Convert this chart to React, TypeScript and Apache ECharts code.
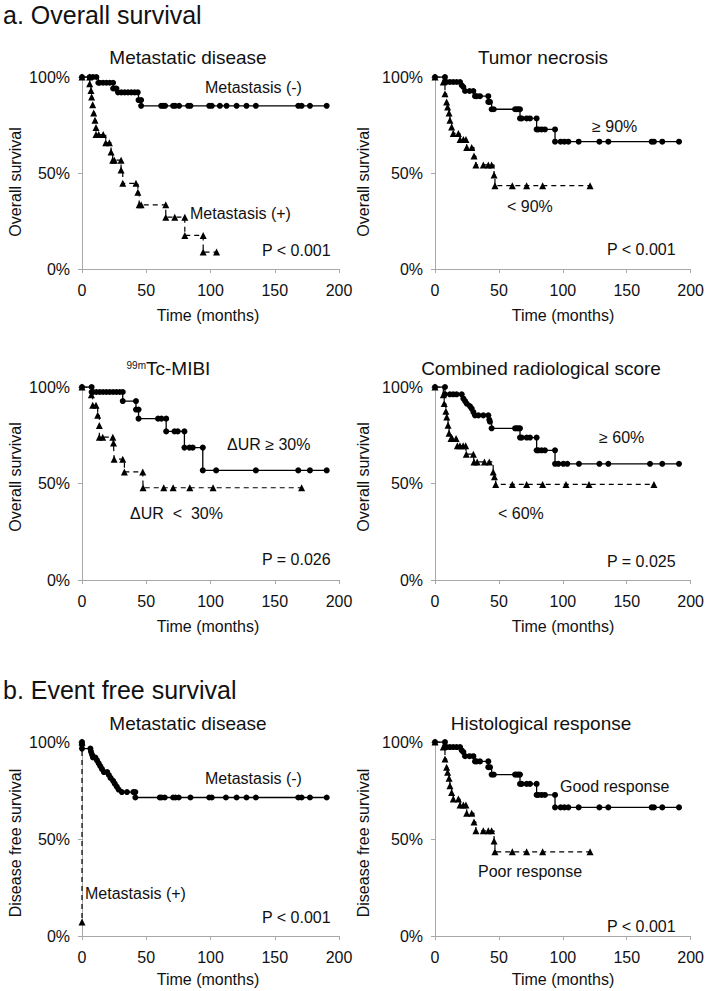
import React, { useEffect, useRef } from "react";
import * as echarts from "echarts";

// ---------- Data (months, survival %) ----------
// a. Overall survival – Metastatic disease
const osMetNegT = [0, 6, 8.6, 11.2, 12.7, 13.8, 16.4, 19, 21.6, 24.2, 24.2, 25.5, 26.8, 28, 30.6, 33.2, 35.8, 38.4, 41, 43.4, 44, 46, 46, 61.6, 63.1, 64.7, 70.9, 72.5, 75.6, 82.6, 84.4, 99, 101, 107.3, 112.5, 120.3, 128, 135.3, 168.3, 170.9, 177.4, 190.4];
const osMetNegS = [100, 100, 100, 100, 97, 97, 97, 97, 97, 97, 94, 94, 94, 92, 92, 92, 92, 92, 92, 92, 88, 88, 85, 85, 85, 85, 85, 85, 85, 85, 85, 85, 85, 85, 85, 85, 85, 85, 85, 85, 85, 85];
const osMetPosT = [0, 6, 6, 7, 7.5, 8.3, 9.1, 10.1, 10.9, 10.9, 13, 16.5, 18.5, 21.3, 22.6, 23.9, 25.2, 30.4, 30.4, 31.7, 42, 43.5, 44.5, 46, 65.2, 65.2, 72.2, 80, 80, 94.3, 94.3, 104.7];
const osMetPosS = [100, 100, 96.5, 93, 89.6, 85.6, 81.3, 77.5, 73.7, 70, 70, 70, 65.7, 65.7, 61, 56.7, 56.7, 56.7, 51.6, 44.6, 44.6, 40, 33.4, 33.4, 33.4, 27, 27, 27, 17.5, 17.5, 8.8, 8.8];

// Tumor necrosis (also Histological response)
const tnHighT = [0, 7.8, 7.8, 9.1, 11.7, 14.3, 16.9, 19.6, 20.9, 22.2, 23.5, 27, 30, 31.3, 32.6, 35.2, 41.7, 41.7, 43, 44.3, 46, 62.6, 63.9, 65.2, 66.5, 66.5, 67.8, 71.7, 74.3, 79.5, 79.5, 80.8, 83.4, 86, 93.9, 93.9, 98.3, 101.2, 104.3, 112.4, 128.6, 135.6, 169.5, 171.3, 177.8, 190.9];
const tnHighS = [100, 100, 97.4, 97.4, 97.4, 97.4, 97.4, 97.4, 95.7, 94.8, 92.7, 92.7, 92.7, 90, 90, 90, 90, 87, 87, 83.2, 83.2, 83.2, 83.2, 83.2, 83.2, 78.4, 78.4, 78.4, 78.4, 78.4, 72.7, 72.7, 72.7, 72.7, 72.7, 66.3, 66.3, 66.3, 66.3, 66.3, 66.3, 66.3, 66.3, 66.3, 66.3, 66.3];
const tnLowT = [0, 6.5, 7.8, 9.1, 9.9, 11, 11.7, 13, 14.3, 18.3, 19.6, 22.2, 24.2, 24.8, 28.7, 30.5, 32, 37.8, 41.7, 44.3, 46.2, 46.9, 60.5, 71.7, 84.2, 121.3];
const tnLowS = [100, 97.4, 91.3, 87, 84.4, 81.3, 77.5, 74, 70.6, 70.6, 67.5, 67.5, 67.5, 63.3, 63.3, 58.8, 54.2, 54.2, 54.2, 54.2, 49, 43.4, 43.4, 43.4, 43.4, 43.4];

// 99mTc-MIBI
const mibiHighT = [0, 7.5, 7.5, 8.6, 11.2, 13.8, 16.4, 19, 21.6, 24.2, 26.8, 29.4, 31.7, 31.7, 42, 42, 44, 44, 59.2, 61.8, 65.5, 65.5, 72, 74.5, 79.7, 79.7, 83.6, 86.2, 94, 94, 104.4, 135.3, 168.3, 177.4, 190.4];
const mibiHighS = [100, 100, 97.4, 97.4, 97.4, 97.4, 97.4, 97.4, 97.4, 97.4, 97.4, 97.4, 97.4, 92.7, 92.7, 88.3, 88.3, 83.6, 83.6, 83.6, 83.6, 77, 77, 77, 77, 68.6, 68.6, 68.6, 68.6, 56.8, 56.8, 56.8, 56.8, 56.8, 56.8];
const mibiLowT = [0, 7.3, 8.3, 10.9, 12.2, 13.5, 13.5, 16.1, 24, 24.5, 25, 31.7, 33, 47.3, 47.5, 63.6, 70.9, 83.9, 102, 170.9];
const mibiLowS = [100, 96, 90.5, 90.5, 85.3, 80, 74, 74, 74, 71, 62.6, 62.6, 56, 56, 47.8, 47.8, 47.8, 47.8, 47.8, 47.8];

// Combined radiological score
const crHighT = [0, 7.8, 7.8, 11.7, 14.3, 16.9, 20.9, 22.2, 23.5, 24.8, 27.4, 28.7, 30, 31.3, 34, 37.8, 41.7, 42.5, 43, 44.3, 62.6, 63.9, 65.2, 66.5, 66.5, 67.8, 71.7, 74.3, 79.5, 79.5, 80.8, 83.4, 86, 93.9, 93.9, 96.5, 100.4, 103.5, 112.6, 128.6, 135.6, 168.2, 177.8, 190.9];
const crHighS = [100, 100, 96.2, 96.2, 96.2, 96.2, 96.2, 94, 92.7, 91.4, 90, 88.8, 87, 85.3, 85.3, 85.3, 85.3, 83, 82, 78.6, 78.6, 78.6, 78.6, 78.6, 73.8, 73.8, 73.8, 73.8, 73.8, 67.2, 67.2, 67.2, 67.2, 67.2, 60.2, 60.2, 60.2, 60.2, 60.2, 60.2, 60.2, 60.2, 60.2, 60.2];
const crLowT = [0, 6.5, 7.2, 8.5, 9.2, 10.2, 11, 12.5, 13.5, 16.5, 17.5, 19.5, 22, 24, 24.5, 30, 30.5, 33, 38.7, 42.5, 45.5, 46.5, 47.5, 60.5, 71.7, 84.2, 102.5, 120.5, 171.3];
const crLowS = [100, 96, 91.4, 87.4, 84.5, 80.2, 76, 73.3, 73.3, 73.3, 69.5, 69.5, 69.5, 69.5, 65.2, 65.2, 61.2, 61.2, 61.2, 61.2, 56, 53.5, 49.5, 49.5, 49.5, 49.5, 49.5, 49.5, 49.5];

// b. Event free survival – Metastatic disease
const efsNegT = [0, 0, 0, 6.5, 7, 7.8, 8.5, 10.4, 11.7, 13, 14.3, 15.6, 17, 19.6, 20.9, 22.2, 24.2, 25.5, 27, 28.5, 31, 35, 40, 41.5, 41.5, 60.5, 61.8, 64.4, 70.9, 72.7, 75.3, 84.4, 99, 101, 112, 120.3, 128, 135.3, 168.3, 170.9, 177.4, 190.4];
const efsNegS = [100, 98.6, 96.6, 96.6, 95, 93.5, 92, 92, 90.5, 89, 87.5, 86, 84.5, 84.5, 83, 81.5, 80, 78.5, 77, 75.5, 74.2, 74.2, 74.2, 74.2, 71.4, 71.4, 71.4, 71.4, 71.4, 71.4, 71.4, 71.4, 71.4, 71.4, 71.4, 71.4, 71.4, 71.4, 71.4, 71.4, 71.4, 71.4];
const efsPosT = [0, 0];
const efsPosS = [100, 7.2];

const xTicks = [0, 200, 50];
const yTicks = [0, 100, 50];

const FONT = '"Liberation Sans", Arial, Helvetica, sans-serif';

const zip = (t: number[], s: number[]) => t.map((v, i) => [v, s[i]]);

const panels = [
  { left: 82, top: 77, w: 257, h: 192, solid: zip(osMetNegT, osMetNegS), dashed: zip(osMetPosT, osMetPosS) },
  { left: 435, top: 77, w: 256, h: 192, solid: zip(tnHighT, tnHighS), dashed: zip(tnLowT, tnLowS) },
  { left: 82, top: 387, w: 257, h: 193, solid: zip(mibiHighT, mibiHighS), dashed: zip(mibiLowT, mibiLowS) },
  { left: 435, top: 387, w: 256, h: 193, solid: zip(crHighT, crHighS), dashed: zip(crLowT, crLowS) },
  { left: 82, top: 742, w: 257, h: 194, solid: zip(efsNegT, efsNegS), dashed: zip(efsPosT, efsPosS) },
  { left: 435, top: 742, w: 256, h: 194, solid: zip(tnHighT, tnHighS), dashed: zip(tnLowT, tnLowS) },
];

function txt(text: string, x: number, y: number, size: number, align = "left", rotation = 0, vAlign = "middle") {
  return {
    type: "text",
    x,
    y,
    rotation,
    silent: true,
    style: {
      text,
      fontSize: size,
      fontFamily: FONT,
      fill: "#111",
      textAlign: align,
      align,
      textVerticalAlign: vAlign,
      verticalAlign: vAlign,
    },
  };
}

export default function App() {
  const ref = useRef<HTMLDivElement>(null);
  useEffect(() => {
    if (!ref.current) return;
    const chart = echarts.init(ref.current, undefined, { renderer: "svg" });
    const axisColor = "#a8a8a8";
    const grids: any[] = [];
    const xAxes: any[] = [];
    const yAxes: any[] = [];
    const series: any[] = [];
    panels.forEach((p, i) => {
      grids.push({ left: p.left, top: p.top, width: p.w, height: p.h, containLabel: false });
      xAxes.push({
        type: "value",
        gridIndex: i,
        min: xTicks[0],
        max: xTicks[1],
        interval: xTicks[2],
        axisLine: { show: true, onZero: false, lineStyle: { color: axisColor, width: 1 } },
        axisTick: { show: true, length: 4, lineStyle: { color: axisColor } },
        axisLabel: { margin: 13, fontSize: 16, color: "#111", fontFamily: FONT },
        splitLine: { show: false },
      });
      yAxes.push({
        type: "value",
        gridIndex: i,
        min: yTicks[0],
        max: yTicks[1],
        interval: yTicks[2],
        axisLine: { show: true, onZero: false, lineStyle: { color: axisColor, width: 1 } },
        axisTick: { show: true, length: 4, lineStyle: { color: axisColor } },
        axisLabel: { margin: 12, fontSize: 16, color: "#111", fontFamily: FONT, formatter: "{value}%" },
        splitLine: { show: false },
      });
      series.push({
        type: "line",
        xAxisIndex: i,
        yAxisIndex: i,
        data: p.dashed,
        step: "end",
        symbol: "triangle",
        symbolSize: 7,
        showSymbol: true,
        showAllSymbol: true,
        silent: true,
        lineStyle: { color: "#000", width: 1.2, type: [5, 4] },
        itemStyle: { color: "#000" },
        emphasis: { disabled: true },
        z: 2,
      });
      series.push({
        type: "line",
        xAxisIndex: i,
        yAxisIndex: i,
        data: p.solid,
        step: "end",
        symbol: "circle",
        symbolSize: 6,
        showSymbol: true,
        showAllSymbol: true,
        silent: true,
        lineStyle: { color: "#000", width: 1.3 },
        itemStyle: { color: "#000" },
        emphasis: { disabled: true },
        z: 3,
      });
    });

    const graphics: any[] = [
      txt("a. Overall survival", 3, 15, 25),
      txt("b. Event free survival", 3, 690, 25),
      // panel titles
      txt("Metastatic disease", 188, 57, 19, "center"),
      txt("Tumor necrosis", 543, 57, 19, "center"),
      txt("99m", 146, 365, 10, "right"),
      txt("Tc-MIBI", 146, 368, 19, "left"),
      txt("Combined radiological score", 541, 368, 19, "center"),
      txt("Metastatic disease", 188, 723, 19, "center"),
      txt("Histological response", 541, 723, 19, "center"),
      // y axis titles
      txt("Overall survival", 15, 182, 16, "center", Math.PI / 2),
      txt("Overall survival", 363, 182, 16, "center", Math.PI / 2),
      txt("Overall survival", 15, 477, 16, "center", Math.PI / 2),
      txt("Overall survival", 363, 477, 16, "center", Math.PI / 2),
      txt("Disease free survival", 15, 843, 16, "center", Math.PI / 2),
      txt("Disease free survival", 363, 843, 16, "center", Math.PI / 2),
      // x axis titles
      txt("Time (months)", 208, 315, 16, "center"),
      txt("Time (months)", 563, 315, 16, "center"),
      txt("Time (months)", 208, 626, 16, "center"),
      txt("Time (months)", 563, 626, 16, "center"),
      txt("Time (months)", 208, 979, 16, "center"),
      txt("Time (months)", 563, 979, 16, "center"),
      // annotations
      txt("Metastasis (-)", 205, 87, 16),
      txt("Metastasis (+)", 190, 213, 16),
      txt("P < 0.001", 262, 250, 16),
      txt("≥ 90%", 592, 126, 16),
      txt("< 90%", 507, 206, 16),
      txt("P < 0.001", 607, 249, 16),
      txt("ΔUR ≥ 30%", 227, 444, 16),
      txt("ΔUR  <  30%", 130, 513, 16),
      txt("P = 0.026", 262, 559, 16),
      txt("≥ 60%", 599, 437, 16),
      txt("< 60%", 498, 513, 16),
      txt("P = 0.025", 607, 561, 16),
      txt("Metastasis (-)", 205, 778, 16),
      txt("Metastasis (+)", 85, 893, 16),
      txt("P < 0.001", 262, 917, 16),
      txt("Good response", 560, 786, 16),
      txt("Poor response", 478, 871, 16),
      txt("P < 0.001", 607, 926, 16),
    ];

    chart.setOption({
      animation: false,
      backgroundColor: "#fff",
      grid: grids,
      xAxis: xAxes,
      yAxis: yAxes,
      series,
      graphic: graphics,
    });
    return () => chart.dispose();
  }, []);
  return <div ref={ref} style={{ position: "absolute", left: 0, top: 0, width: 707, height: 991 }} />;
}
